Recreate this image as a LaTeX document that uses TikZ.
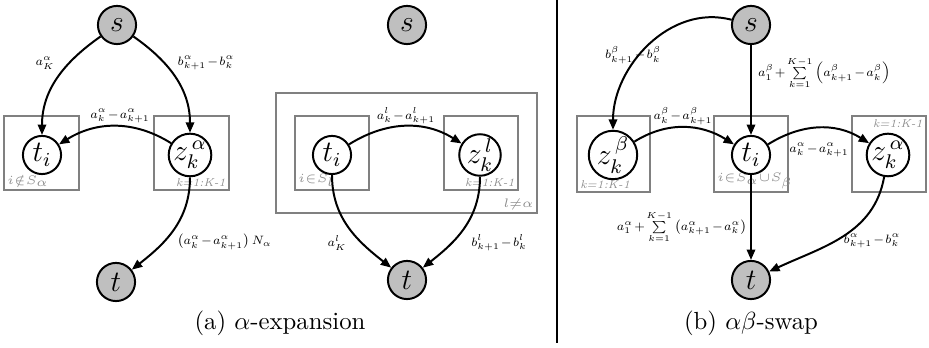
\documentclass[tikz,border=0pt]{standalone}
\usepackage{amsmath,amssymb}
\usetikzlibrary{arrows.meta}
\newcommand{\elabfont}{\scriptsize\medmuskip=1.5mu\relax\thickmuskip=1.5mu\relax}
\newcommand{\plabfont}{\fontsize{4.6}{5}\selectfont\itshape\medmuskip=0mu\relax\thickmuskip=0mu\relax}
\begin{document}
\begin{tikzpicture}[x=0.4037pt,y=0.4037pt,
  vnode/.style={circle,draw,line width=0.8pt,minimum size=15.4pt,inner sep=0pt,font=\large},
  term/.style={vnode,fill=black!25},
  plate/.style={draw=black!50,line width=0.8pt},
  edge/.style={-{Triangle[length=4.2pt,width=3.4pt]},line width=0.8pt},
  elab/.style={font=\elabfont,inner sep=1pt,scale=0.7},
  plab/.style={font=\plabfont,text=black!45,inner sep=1.2pt},
  captext/.style={font=\normalsize}]
\useasboundingbox (0,0) rectangle (929,348);
% ---------- panel (a) left ----------
\draw[plate] (4,158) rectangle (79,232);
\draw[plate] (154,158) rectangle (229,232);
\node[plab,anchor=south west] (pl1) at (4,158) {$i\notin S_\alpha$};
\node[plab,anchor=south east] (pl2) at (229,158) {k=1:K-1};
\node[term] (sa) at (117,323) {$s$};
\node[vnode] (tia) at (42,193) {$t_i$};
\node[vnode] (za) at (190,193) {$z_k^{\,\alpha}$};
\node[term] (ta) at (116,66) {$t$};
\draw[edge] (sa) to[out=-145,in=90] (tia);
\draw[edge] (sa) to[out=-35,in=90] (za);
\draw[edge] (za) to[out=148,in=32] (tia);
\draw[edge] (za) to[out=-90,in=38] (ta);
\node[elab] (la1) at (45,285) {$a^\alpha_K$};
\node[elab] (la2) at (206,285) {$b^\alpha_{k+1}-b^\alpha_k$};
\node[elab] (la3) at (120,232) {$a^\alpha_k-a^\alpha_{k+1}$};
\node[elab,anchor=west] (la4) at (175,106) {$\left(a^\alpha_k-a^\alpha_{k+1}\right)N_\alpha$};
% ---------- panel (a) middle ----------
\draw[plate] (276,135) rectangle (537,255);
\draw[plate] (295,158) rectangle (369,232);
\draw[plate] (444,158) rectangle (518,232);
\node[plab,anchor=south west] (pl3) at (295,158) {$i\in S_l$};
\node[plab,anchor=south east] (pl4) at (518,158) {k=1:K-1};
\node[plab,anchor=south east] (pl5) at (537,135) {$l\neq\alpha$};
\node[term] (sm) at (407,323) {$s$};
\node[vnode] (tim) at (332,193) {$t_i$};
\node[vnode] (zm) at (480,193) {$z_k^{\,l}$};
\node[term] (tm) at (407,68) {$t$};
\draw[edge] (tim) to[out=32,in=148] (zm);
\draw[edge] (tim) to[out=-90,in=142] (tm);
\draw[edge] (zm) to[out=-90,in=38] (tm);
\node[elab] (lm1) at (406,232) {$a^l_k-a^l_{k+1}$};
\node[elab] (lm2) at (337,105) {$a^l_K$};
\node[elab] (lm3) at (499,105) {$b^l_{k+1}-b^l_k$};
\node[captext] (capa) at (280,25) {(a) $\alpha$-expansion};
% ---------- divider ----------
\coordinate (d1) at (557,348);
\coordinate (d2) at (557,5);
\draw[line width=1.2pt] (d1) -- (d2);
% ---------- panel (b) ----------
\draw[plate] (577,156) rectangle (650,232);
\draw[plate] (714,156) rectangle (788,232);
\draw[plate] (852,156) rectangle (926,232);
\node[plab,anchor=south west] (pl6) at (577,156) {k=1:K-1};
\node[plab,anchor=south west] (pl7) at (714,156) {$i\in S_\alpha\cup S_\beta$};
\node[plab,anchor=north east] (pl8) at (926,232) {k=1:K-1};
\node[term] (sr) at (751,323) {$s$};
\node[vnode] (zb) at (613,193) {$z_k^{\,\beta}$};
\node[vnode] (tir) at (751,193) {$t_i$};
\node[vnode] (zr) at (888,193) {$z_k^{\,\alpha}$};
\node[term] (tr) at (751,68) {$t$};
\draw[edge] (sr) to[out=165,in=90] (zb);
\draw[edge] (sr) -- (tir);
\draw[edge] (zb) to[out=32,in=148] (tir);
\draw[edge] (tir) to[out=32,in=148] (zr);
\draw[edge] (tir) -- (tr);
\draw[edge] (zr) to[out=-100,in=25] (tr);
\node[elab] (lr1) at (633,293) {$b^\beta_{k+1}-b^\beta_k$};
\node[elab,anchor=west] (lr2) at (756,275) {$a^\beta_1+\sum\limits_{k=1}^{K-1}\left(a^\beta_{k+1}-a^\beta_k\right)$};
\node[elab] (lr3) at (683,232) {$a^\beta_k-a^\beta_{k+1}$};
\node[elab] (lr4) at (819,198) {$a^\alpha_k-a^\alpha_{k+1}$};
\node[elab,anchor=east] (lr5) at (749,121) {$a^\alpha_1+\sum\limits_{k=1}^{K-1}\left(a^\alpha_{k+1}-a^\alpha_k\right)$};
\node[elab] (lr6) at (872,107) {$b^\alpha_{k+1}-b^\alpha_k$};
\node[captext] (capb) at (751,25) {(b) $\alpha\beta$-swap};
\end{tikzpicture}
\end{document}
